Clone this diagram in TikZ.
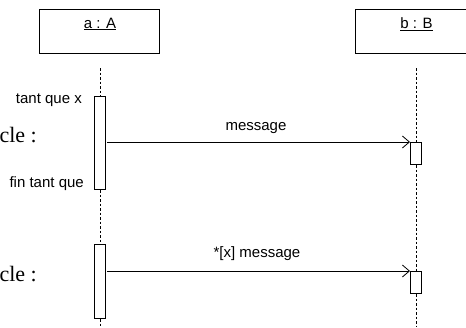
\documentclass[tikz,border=0pt]{standalone}
\usepackage{fontspec}
\usepackage{tikz}
\usetikzlibrary{arrows.meta}
\newfontfamily\umlfont{Liberation Sans}
\newfontfamily\clefont{Liberation Serif}
\tikzstyle{seq}=[
    objbox/.style={rectangle, draw, line width=1pt, minimum width=120pt, minimum height=44pt, inner sep=0pt},
    objlabel/.style={font={\umlfont\fontsize{15}{18}\selectfont}, inner sep=0pt},
    lifeline/.style={line width=1pt, dash pattern=on 2.5pt off 2pt},
    activation/.style={rectangle, draw, fill=white, line width=1pt, minimum width=11pt, inner sep=0pt, anchor=north},
    msg/.style={line width=1pt, -{Straight Barb[length=7pt,width=12pt,line width=0.8pt]}},
    msglabel/.style={font={\umlfont\fontsize{15}{18}\selectfont}, inner sep=0pt, anchor=base},
    guard/.style={font={\umlfont\fontsize{15}{18}\selectfont}, inner sep=0pt, anchor=base east},
    clelabel/.style={font={\clefont\fontsize{22}{26}\selectfont}, inner sep=0pt, anchor=base east},
]

\begin{document}
\begin{tikzpicture}[seq, x=1pt, y=-1pt]
    \useasboundingbox (0,0) rectangle (466,327);
    % objects
    \node[objbox] (a) at (99,31) {};
    \node[objbox, minimum width=111pt] (b) at (410.5,31) {};
    \node[objlabel] (alabel) at (100,24) {\underline{a : A}};
    \node[objlabel] (blabel) at (416.5,24) {\underline{b : B}};
    % activations
    \node[activation, minimum height=93pt] (a1) at (100,96) {};
    \node[activation, minimum height=74pt] (a2) at (100,244) {};
    \node[activation, minimum height=22pt] (b1) at (416,142) {};
    \node[activation, minimum height=22pt] (b2) at (416,271) {};
    % lifelines
    \coordinate (atop) at (100,68);
    \coordinate (abot) at (100,327);
    \coordinate (btop) at (416,68);
    \coordinate (bbot) at (416,327);
    \draw[lifeline] (atop) -- (a1.north);
    \draw[lifeline] (a1.south) -- (a2.north);
    \draw[lifeline] (a2.south) -- (abot);
    \draw[lifeline] (btop) -- (b1.north);
    \draw[lifeline] (b1.south) -- (b2.north);
    \draw[lifeline] (b2.south) -- (bbot);
    % messages
    \draw[msg] ([xshift=1pt]a1.east |- b1.north) -- (b1.north west);
    \draw[msg] ([xshift=1pt]a2.east |- b2.north) -- (b2.north west);
    \node[msglabel] (m1) at (256,130) {message};
    \node[msglabel] (m2) at (257,257) {*[x] message};
    % loop notes
    \node[guard] (tq) at (82,103) {tant que x};
    \node[guard] (ftq) at (84,187) {fin tant que};
    \node[clelabel] (c1) at (37,142) {cle :};
    \node[clelabel] (c2) at (37,281) {cle :};
\end{tikzpicture}
\end{document}
